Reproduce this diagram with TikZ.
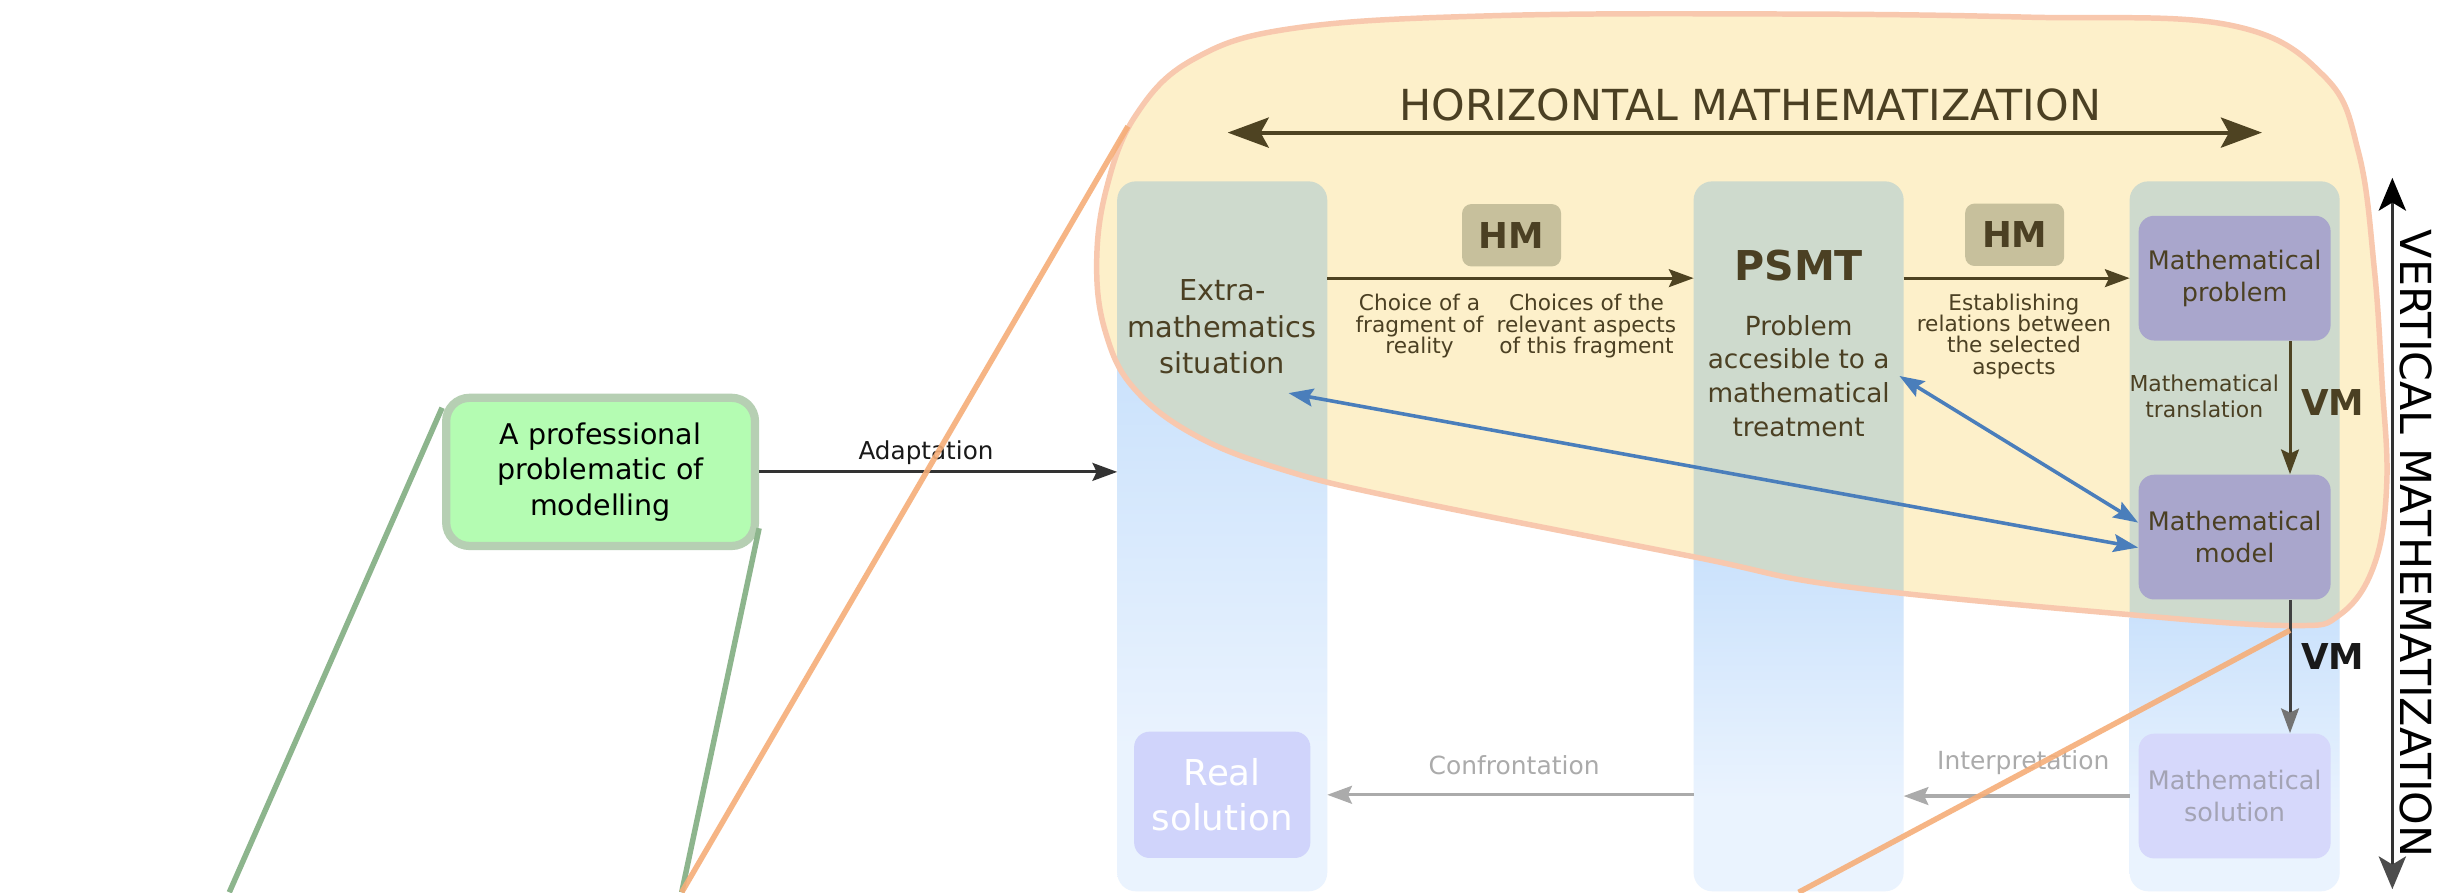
\documentclass[tikz,border=0pt]{standalone}
\usepackage{fontspec}
\setmainfont{DejaVu Sans}
\usetikzlibrary{arrows.meta,positioning}

\definecolor{colpale}{HTML}{EAF3FE}
\definecolor{colblue}{HTML}{B5D6FA}
\definecolor{colgreen}{HTML}{CEDACD}
\definecolor{blobfill}{HTML}{FDF0CA}
\definecolor{blobline}{HTML}{F8C8AE}
\definecolor{zoomorange}{HTML}{F6AE78}
\definecolor{zoomgreen}{HTML}{8DB58D}
\definecolor{proffill}{HTML}{B4FCB2}
\definecolor{profline}{HTML}{B6CFB3}
\definecolor{browntext}{HTML}{4B4023}
\definecolor{arrowbrown}{HTML}{4E4322}
\definecolor{hmfill}{HTML}{C7C09C}
\definecolor{mathfill}{HTML}{A9A6CC}
\definecolor{solfill}{HTML}{D6D8FB}
\definecolor{soltext}{HTML}{A3A3B4}
\definecolor{realfill}{HTML}{D0D4FB}
\definecolor{arrowblue}{HTML}{4A7EBB}
\definecolor{grayish}{HTML}{ABABAB}

\pgfdeclareverticalshading{colfade}{100bp}{color(0bp)=(colpale); color(38bp)=(colpale); color(96bp)=(colblue); color(100bp)=(colblue)}

\newcommand{\blobpath}{plot[smooth cycle, tension=0.65] coordinates {(703,171) (709,122) (728,74) (765,38) (830,18) (960,10) (1150,9) (1300,11) (1429,16) (1490,49) (1512,98) (1522,172) (1527,245) (1530,310) (1522,362) (1500,394) (1468,401) (1365,394) (1183,376) (1086,357) (900,320) (822,301) (766,279) (727,249) (709,214)}}

\tikzset{
  column/.style={fill=colpale, rounded corners=0.24cm, minimum width=2.68cm, minimum height=9.09cm, inner sep=0pt},
  profbox/.style={fill=proffill, draw=profline, line width=3pt, rounded corners=0.3cm, minimum width=3.96cm, minimum height=1.9cm, align=center, font=\fontsize{10.4pt}{13pt}\selectfont},
  hmbox/.style={fill=hmfill, rounded corners=0.12cm, minimum width=1.27cm, minimum height=0.8cm, text=browntext, font=\bfseries\fontsize{13pt}{15pt}\selectfont},
  mbox/.style={fill=mathfill, rounded corners=0.2cm, minimum width=2.46cm, minimum height=1.6cm, align=center, text=browntext, font=\fontsize{9.3pt}{11.6pt}\selectfont},
  realbox/.style={fill=realfill, rounded corners=0.2cm, minimum width=2.26cm, minimum height=1.62cm, align=center, text=white, font=\fontsize{13pt}{16.3pt}\selectfont},
  small/.style={align=center, text=browntext, font=\fontsize{7.9pt}{7.8pt}\selectfont},
  midtext/.style={align=center, text=browntext, font=\fontsize{9.6pt}{12.3pt}\selectfont},
  vmlabel/.style={text=browntext, font=\bfseries\fontsize{13pt}{15pt}\selectfont},
  bigtitle/.style={text=browntext, font=\fontsize{15.6pt}{18pt}\selectfont},
  graylabel/.style={text=grayish, font=\fontsize{9.1pt}{11pt}\selectfont},
  brownarrow/.style={draw=arrowbrown, line width=1.1pt, -{Stealth[length=9pt,width=6.5pt,inset=1.5pt]}},
  bluearrow/.style={draw=arrowblue, line width=1.3pt, {Stealth[length=9pt,width=6.5pt,inset=1.5pt]}-{Stealth[length=9pt,width=6.5pt,inset=1.5pt]}},
  grayarrow/.style={draw=grayish, line width=1.2pt, -{Stealth[length=9pt,width=6.5pt,inset=1.5pt]}},
  zoomline/.style={line width=2pt},
}

\begin{document}
\begin{tikzpicture}[x=0.02cm, y=-0.02cm]
\useasboundingbox[fill=white] (0,0) rectangle (1568,572);

\node[column] (col1) at (783.5,343.8) {};
\node[column] (col2) at (1153,343.8) {};
\node[column] (col3) at (1432.5,343.8) {};
\foreach \c/\ya in {col1/215, col2/345, col3/385}
  \shade[shading=colfade, rounded corners=0.24cm] (\c.south west) rectangle (\c.east |- 0,\ya);

\fill[blobfill] \blobpath;
\begin{scope}
  \clip \blobpath;
  \foreach \c in {col1,col2,col3}
    \fill[colgreen, rounded corners=0.24cm] (\c.south west) rectangle (\c.north east);
\end{scope}
\draw[blobline, line width=2pt] \blobpath;

\node[profbox] (prof) at (385,302.5) {A professional\\problematic of\\modelling};
\node[hmbox] (hm1) at (969,150.8) {HM};
\node[hmbox] (hm2) at (1291.5,150.5) {HM};
\node[align=center, text=browntext, font=\fontsize{10.5pt}{13.3pt}\selectfont] (sit) at (783.5,209.5) {Extra-\\mathematics\\situation};
\node[text=browntext, font=\bfseries\fontsize{15pt}{18pt}\selectfont] (psmt) at (1153,170) {PSMT};
\node[midtext] (desc) at (1153,241) {Problem\\accesible to a\\mathematical\\treatment};
\node[small] (choice) at (910,209) {Choice of a\\fragment of\\reality};
\node[small] (choices) at (1017,209) {Choices of the\\relevant aspects\\of this fragment};
\node[small] (estab) at (1291,215.5) {Establishing\\relations between\\the selected\\aspects};
\node[mbox] (prob) at (1432.5,178.3) {Mathematical\\problem};
\node[mbox] (model) at (1432.5,344.3) {Mathematical\\model};
\node[mbox, fill=solfill, text=soltext] (sol) at (1432.5,510.3) {Mathematical\\solution};
\node[realbox] (real) at (783.5,509.5) {Real\\solution};
\node[align=center, text=browntext, font=\fontsize{8pt}{9.7pt}\selectfont] (transl) at (1413,254) {Mathematical\\translation};
\node[vmlabel] (vm1) at (1495.5,258) {VM};
\node[vmlabel, text=black!90] (vm2) at (1495.5,421) {VM};
\node[bigtitle, anchor=base] (hmtitle) at (1122,77) {HORIZONTAL MATHEMATIZATION};
\node[bigtitle, text=black, rotate=-90] (vmtitle) at (1549,348.5) {VERTICAL MATHEMATIZATION};
\node[font=\fontsize{9pt}{11pt}\selectfont, text=black!90] (adapt) at (593.6,290) {Adaptation};
\node[graylabel] (confr) at (970.6,490.4) {Confrontation};
\node[graylabel] (interp) at (1297,489) {Interpretation};

\coordinate (hl) at (787,85);
\coordinate (hr) at (1450,85);
\coordinate (vt) at (1533.6,114);
\coordinate (vb) at (1533.6,570);
\coordinate (oA) at (723,81);
\coordinate (oB) at (437,572);
\coordinate (oC) at (1468,404);
\coordinate (oD) at (1153,572);
\coordinate (gA) at (147,572);
\coordinate (gB) at (437,572);

\draw[arrowbrown, line width=1.4pt, {Stealth[length=15pt,width=11pt,inset=3pt]}-{Stealth[length=15pt,width=11pt,inset=3pt]}] (hl) -- (hr);
\draw[black!80, line width=0.9pt, {Stealth[length=12pt,width=10pt,inset=3pt,color=black!70]}-{Stealth[length=12pt,width=10pt,inset=3pt,color=black]}] (vb) -- (vt);
\draw[brownarrow] (col1.east |- prob) -- (col2.west |- prob);
\draw[brownarrow] (col2.east |- prob) -- (col3.west |- prob);
\draw[brownarrow] ([xshift=0.71cm]prob.south) -- ([xshift=0.71cm]model.north);
\draw[draw=black!75, line width=1.1pt, -{Stealth[length=9pt,width=6.5pt,inset=1.5pt,color=black!55]}] ([xshift=0.71cm]model.south) -- ([xshift=0.71cm]sol.north);
\draw[black!80, line width=1.1pt, -{Stealth[length=9pt,width=6.5pt,inset=1.5pt]}] (prof.east) -- (col1.west |- prof.east);
\draw[grayarrow] (col2.west |- real) -- (col1.east |- real);
\draw[grayarrow] (col3.west |- sol) -- (col2.east |- sol);
\draw[bluearrow] ([xshift=0.85cm,yshift=-0.85cm]sit.center) -- ([yshift=-0.134cm]model.west);
\draw[bluearrow] (desc.east) -- ([yshift=0.186cm]model.west);

\draw[zoomline, zoomgreen] ([yshift=-0.18cm]prof.north west) -- (gA);
\draw[zoomline, zoomgreen] ([yshift=0.28cm]prof.south east) -- (gB);
\draw[zoomline, zoomorange, opacity=0.9] (oA) -- (oB);
\draw[zoomline, zoomorange, opacity=0.9] (oC) -- (oD);
\end{tikzpicture}
\end{document}
